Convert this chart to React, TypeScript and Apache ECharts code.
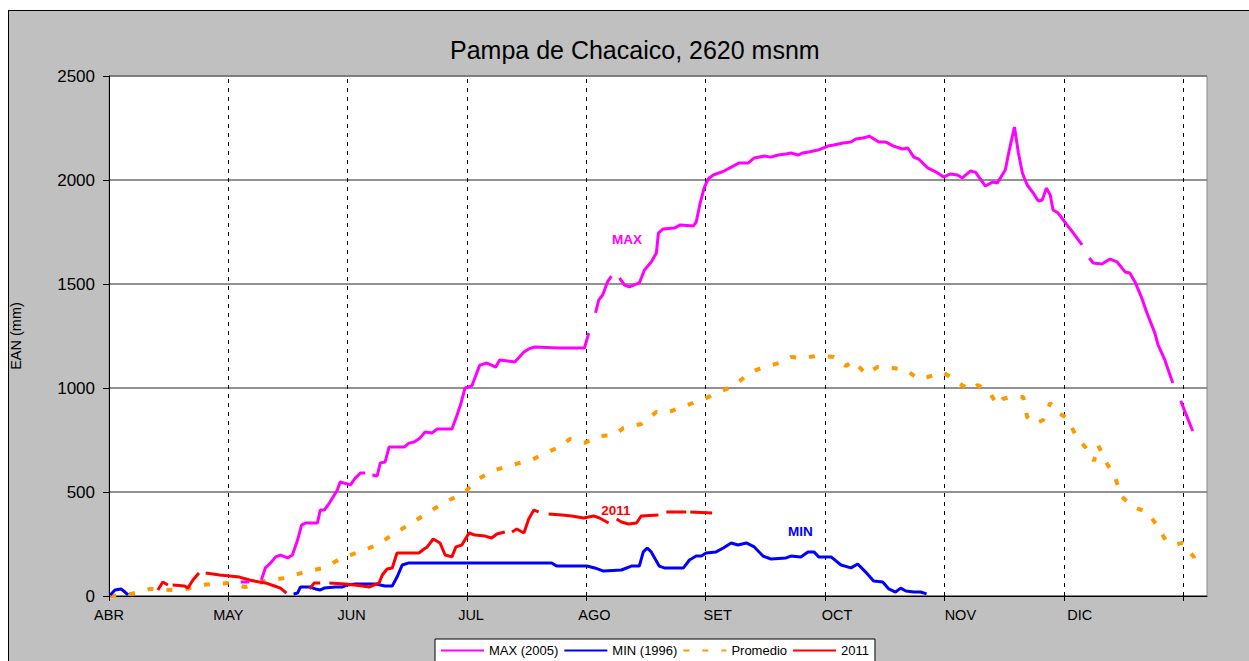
import React, { useEffect, useRef } from "react";
import * as echarts from "echarts";

const FONT = "'Liberation Sans', Arial, sans-serif";

const MONTHS = ["ABR", "MAY", "JUN", "JUL", "AGO", "SET", "OCT", "NOV", "DIC"];
const MONTH_START_DAYS = [0, 30, 61, 91, 122, 153, 183, 214, 244];
const GRID_DAYS = [30, 60, 90, 120, 150, 180, 210, 240, 270];
const TICK_DAYS = [0, 30, 60, 90, 120, 150, 180, 210, 240, 270];

type Pt = [number, number | null];

const MAX_2005: Pt[] = [
  [33.1, 67], [35.3, 67], [36, null],
  [38.3, 77], [39.3, 135], [40.4, 154], [41.9, 188], [43.1, 197], [44.9, 183], [46.1, 197],
  [47.4, 269], [48.4, 341], [49.4, 351], [52.4, 351], [53.1, 413], [54.1, 413], [55.4, 447],
  [57.4, 510], [58.1, 548], [60.7, 534], [61.9, 567], [63.2, 591], [64.4, 591], [65, null],
  [66.2, 582], [67.4, 577], [68.2, 640], [69.4, 644], [70.4, 716], [74.2, 716], [75.4, 735],
  [76.7, 740], [78.2, 760], [79.4, 788], [81.2, 784], [82.5, 803], [86.2, 803], [87.5, 870],
  [88.5, 928], [89.5, 1000], [91.2, 1010], [93.2, 1110], [95.0, 1120], [97.2, 1100],
  [98.2, 1135], [102.0, 1125], [104.3, 1173], [105.5, 1188], [107.0, 1197], [113.0, 1192],
  [119.5, 1192], [120.6, 1264], [121.4, null],
  [122.3, 1361], [123.1, 1423], [124.1, 1447], [125.3, 1510], [126.3, 1538], [127.2, null],
  [128.3, 1529], [129.6, 1495], [130.8, 1486], [133.3, 1505], [134.6, 1567], [136.3, 1606],
  [137.6, 1649], [138.1, 1745], [139.3, 1765], [142.1, 1769], [143.6, 1784], [146.9, 1779],
  [147.6, 1798], [148.6, 1889], [149.6, 1961], [150.6, 2005], [151.9, 2024], [154.6, 2043],
  [156.9, 2067], [158.4, 2082], [160.7, 2082], [162.2, 2106], [164.7, 2115], [166.4, 2110],
  [168.2, 2120], [170.2, 2125], [171.4, 2130], [173.2, 2120], [174.4, 2130], [175.9, 2135],
  [178.2, 2144], [180.7, 2163], [182.2, 2168], [184.5, 2178], [186.5, 2183], [187.7, 2197],
  [189.5, 2202], [191.2, 2210], [193.5, 2183], [195.2, 2183], [197.2, 2163], [199.5, 2149],
  [200.8, 2154], [202.3, 2110], [203.5, 2101], [205.8, 2058], [208.3, 2034], [209.8, 2014],
  [211.5, 2029], [213.3, 2024], [214.5, 2010], [216.5, 2043], [217.8, 2038], [220.3, 1971],
  [222.1, 1990], [223.3, 1986], [225.3, 2048], [226.3, 2144], [227.6, 2255], [228.6, 2130],
  [229.6, 2034], [230.8, 1976], [232.3, 1938], [233.6, 1899], [234.6, 1904], [235.6, 1961],
  [236.6, 1928], [237.3, 1856], [238.6, 1841], [240.8, 1784], [242.4, 1745], [244.6, 1688],
  [245.5, null],
  [246.4, 1625], [247.4, 1601], [249.6, 1596], [251.6, 1620], [253.4, 1606], [255.4, 1558],
  [256.6, 1553], [257.9, 1510], [259.6, 1433], [260.9, 1361], [262.9, 1264], [263.7, 1207],
  [265.4, 1135], [266.7, 1063], [267.4, 1024], [268.4, null],
  [269.4, 938], [272.4, 793],
];

const MIN_1996: Pt[] = [
  [0.3, 5], [1.5, 29], [3.0, 34], [4.0, 19], [4.8, 5], [6, null],
  [46.4, 10], [47.4, 14], [48.1, 43], [50.4, 43], [51.9, 34], [53.1, 29], [54.1, 38],
  [56.9, 43], [58.6, 43], [59.9, 53], [61.9, 58], [66.9, 58], [69.4, 48], [71.2, 48],
  [72.4, 91], [73.7, 149], [75.4, 159], [111.3, 159], [112.5, 144], [120.1, 144],
  [122.1, 135], [124.3, 120], [128.8, 125], [131.3, 144], [133.3, 144], [134.3, 212],
  [135.3, 231], [136.3, 212], [138.3, 144], [139.6, 135], [144.4, 135], [145.9, 173],
  [147.6, 192], [148.9, 192], [150.1, 207], [152.6, 212], [154.4, 231], [156.4, 255],
  [158.1, 245], [160.2, 255], [162.2, 236], [164.4, 192], [166.4, 178], [170.2, 183],
  [171.4, 192], [173.9, 188], [175.7, 212], [177.2, 212], [178.4, 188], [181.5, 188],
  [184.0, 149], [186.5, 135], [188.2, 154], [190.2, 115], [192.2, 72], [194.5, 67],
  [196.0, 34], [197.7, 19], [199.0, 38], [200.3, 24], [202.3, 19], [204.0, 19], [205.5, 10],
];

const PROMEDIO: Pt[] = [
  [0.3, 0], [5.5, 10], [10.3, 34], [15.3, 29], [19.8, 35], [24.3, 55], [29.8, 62],
  [34.3, 43], [39.3, 72], [44.4, 87], [49.1, 115], [53.9, 135], [58.6, 183], [62.9, 212],
  [67.4, 245], [71.9, 303], [75.7, 346], [80.0, 399], [84.5, 452], [89.2, 495], [92.5, 558],
  [96.2, 600], [101.3, 630], [106.3, 655], [110.0, 690], [113.8, 721], [115.8, 755],
  [119.5, 736], [123.3, 769], [127.1, 774], [129.3, 808], [133.8, 827], [137.6, 885],
  [140.1, 880], [144.6, 913], [149.6, 947], [153.4, 981], [157.1, 1010], [160.9, 1072],
  [163.9, 1096], [168.4, 1120], [171.4, 1149], [173.9, 1144], [178.2, 1154], [182.2, 1149],
  [185.2, 1106], [187.2, 1130], [190.2, 1067], [193.2, 1101], [197.0, 1096], [200.3, 1087],
  [203.5, 1043], [205.8, 1053], [209.8, 1075], [213.5, 1024], [216.5, 990], [218.3, 1014],
  [221.1, 986], [223.3, 918], [224.6, 947], [226.6, 957], [229.8, 957], [230.8, 861],
  [232.1, 832], [233.3, 832], [234.8, 846], [236.6, 928], [238.6, 880], [240.8, 856],
  [243.1, 769], [245.6, 711], [247.6, 649], [248.6, 726], [250.9, 635], [252.9, 572],
  [254.4, 481], [257.4, 428], [260.9, 404], [263.4, 341], [265.7, 265], [268.4, 250],
  [269.9, 255], [272.7, 188], [273.4, 120],
];

const Y2011: Pt[] = [
  [12.3, 29], [13.5, 67], [14.8, 53], [15.4, null],
  [16.0, 53], [19.0, 48], [19.8, 38], [21.1, 77], [22.6, 111], [23.4, null],
  [24.3, 111], [27.8, 101], [30.3, 96], [32.8, 91], [35.3, 77], [37.8, 67], [39.3, 63],
  [41.6, 48], [43.1, 38], [44.6, 14], [47, null],
  [50.4, 34], [51.6, 63], [53.1, 63], [54.2, null],
  [55.4, 63], [59.4, 58], [63.7, 48], [65.4, 43], [67.9, 63], [68.7, 101], [69.9, 130],
  [71.2, 135], [72.4, 207], [77.9, 207], [79.2, 226], [80.0, 236], [81.5, 274], [83.2, 255],
  [84.5, 197], [86.2, 188], [87.2, 236], [88.7, 245], [90.5, 303], [92.0, 293], [94.5, 288],
  [96.2, 279], [97.5, 298], [99.5, 308], [100.4, null],
  [101.3, 308], [102.5, 322], [104.3, 303], [105.5, 370], [106.8, 413], [108.0, 404],
  [109.2, null],
  [110.5, 394], [113.8, 389], [116.3, 385], [119.3, 375], [121.8, 385], [123.3, 375],
  [125.6, 351], [126.6, null],
  [127.6, 370], [128.8, 356], [130.6, 346], [132.6, 351], [133.8, 385], [138.1, 389],
  [139.1, null],
  [140.1, 404], [145.1, 404], [145.6, null],
  [146.1, 404], [151.6, 399],
];

const LABEL_MAX: [number, number] = [130.2, 1716];
const LABEL_MIN: [number, number] = [173.8, 308];
const LABEL_2011: [number, number] = [127.4, 409];

const toData = (pts: Pt[]) => pts.map(([x, y]) => [x, y === null ? "-" : y]);

const tag = (text: string, coord: [number, number], color: string) => ({
  symbol: "rect",
  symbolSize: 1,
  itemStyle: { color: "rgba(0,0,0,0)" },
  silent: true,
  label: {
    show: true,
    position: "inside",
    formatter: text,
    color,
    fontFamily: FONT,
    fontWeight: "bold",
    fontSize: 13.5,
  },
  data: [{ coord }],
});

export default function App() {
  const ref = useRef<HTMLDivElement>(null);

  useEffect(() => {
    if (!ref.current) return;
    const chart = echarts.init(ref.current, undefined, { renderer: "svg" });
    const option: any = {
      animation: false,
      backgroundColor: "#c0c0c0",
      graphic: [
        { type: "rect", shape: { x: 0, y: 0, width: 1249, height: 10 }, style: { fill: "#fff" }, z: 0 },
        { type: "rect", shape: { x: 0, y: 0, width: 8, height: 661 }, style: { fill: "#fff" }, z: 0 },
        { type: "line", shape: { x1: 8, y1: 10.5, x2: 1249, y2: 10.5 }, style: { stroke: "#000", lineWidth: 1 } },
        { type: "line", shape: { x1: 8.5, y1: 10, x2: 8.5, y2: 661 }, style: { stroke: "#000", lineWidth: 1 } },
      ],
      title: {
        text: "Pampa de Chacaico, 2620 msnm",
        left: 445,
        top: 32,
        textStyle: { fontFamily: FONT, fontSize: 25, fontWeight: "normal", color: "#000" },
      },
      grid: {
        left: 106,
        top: 76,
        width: 1101,
        height: 520,
        show: true,
        backgroundColor: "#fff",
        borderColor: "#8a8a8a",
        borderWidth: 1,
      },
      legend: {
        left: 435,
        top: 639,
        padding: [5, 6, 8, 5],
        itemWidth: 43,
        itemHeight: 14,
        itemGap: 5,
        backgroundColor: "#fff",
        borderColor: "#000",
        borderWidth: 1,
        borderRadius: 0,
        itemStyle: { opacity: 0 },
        textStyle: { fontFamily: FONT, fontSize: 13, color: "#000" },
        data: ["MAX (2005)", "MIN (1996)", "Promedio", "2011"],
      },
      xAxis: {
        type: "value",
        min: 0,
        max: 276,
        axisLine: { show: true, lineStyle: { color: "#000", width: 1 } },
        axisTick: { show: true, length: 5, customValues: TICK_DAYS, lineStyle: { color: "#000" } },
        axisLabel: {
          show: true,
          customValues: MONTH_START_DAYS,
          margin: 11,
          fontFamily: FONT,
          fontSize: 14.5,
          color: "#000",
          formatter: (v: number) => {
            const i = MONTH_START_DAYS.indexOf(Math.round(v));
            return i >= 0 ? MONTHS[i] : "";
          },
        },
        splitLine: { show: false },
      },
      yAxis: {
        type: "value",
        min: 0,
        max: 2500,
        interval: 500,
        name: "EAN (mm)",
        nameLocation: "middle",
        nameGap: 86,
        nameTextStyle: { fontFamily: FONT, fontSize: 14.5, color: "#000" },
        axisLine: { show: true, lineStyle: { color: "#000", width: 1 } },
        axisTick: { show: true, length: 6, lineStyle: { color: "#000" } },
        axisLabel: {
          margin: 14,
          fontFamily: FONT,
          fontSize: 17,
          color: "#000",
          formatter: (v: number) => String(v),
        },
        splitLine: { show: true, lineStyle: { color: "#6e6e6e", width: 1.5 } },
      },
      series: [
        {
          name: "gridlines",
          type: "line",
          data: [],
          silent: true,
          z: 1,
          markLine: {
            silent: true,
            symbol: "none",
            z: 1,
            label: { show: false },
            lineStyle: { color: "#000", type: [4, 5], width: 1 },
            data: GRID_DAYS.map((d) => ({ xAxis: d })),
          },
        },
        {
          name: "Promedio",
          type: "line",
          data: toData(PROMEDIO),
          showSymbol: false,
          symbol: "none",
          z: 3,
          lineStyle: { color: "#ff9900", width: 4, type: [6, 13] },
          itemStyle: { color: "#ff9900" },
        },
        {
          name: "MIN (1996)",
          type: "line",
          data: toData(MIN_1996),
          showSymbol: false,
          symbol: "none",
          z: 4,
          lineStyle: { color: "#0000ff", width: 3 },
          itemStyle: { color: "#0000ff" },
          markPoint: tag("MIN", LABEL_MIN, "#0000ff"),
        },
        {
          name: "2011",
          type: "line",
          data: toData(Y2011),
          showSymbol: false,
          symbol: "none",
          z: 5,
          lineStyle: { color: "#ff0000", width: 3 },
          itemStyle: { color: "#ff0000" },
          markPoint: tag("2011", LABEL_2011, "#ff0000"),
        },
        {
          name: "MAX (2005)",
          type: "line",
          data: toData(MAX_2005),
          showSymbol: false,
          symbol: "none",
          z: 6,
          lineStyle: { color: "#ff00ff", width: 3 },
          itemStyle: { color: "#ff00ff" },
          markPoint: tag("MAX", LABEL_MAX, "#ff00ff"),
        },
      ],
    };
    chart.setOption(option);
    return () => chart.dispose();
  }, []);

  return (
    <div
      ref={ref}
      style={{ position: "fixed", left: 0, top: 0, width: 1249, height: 661 }}
    />
  );
}
